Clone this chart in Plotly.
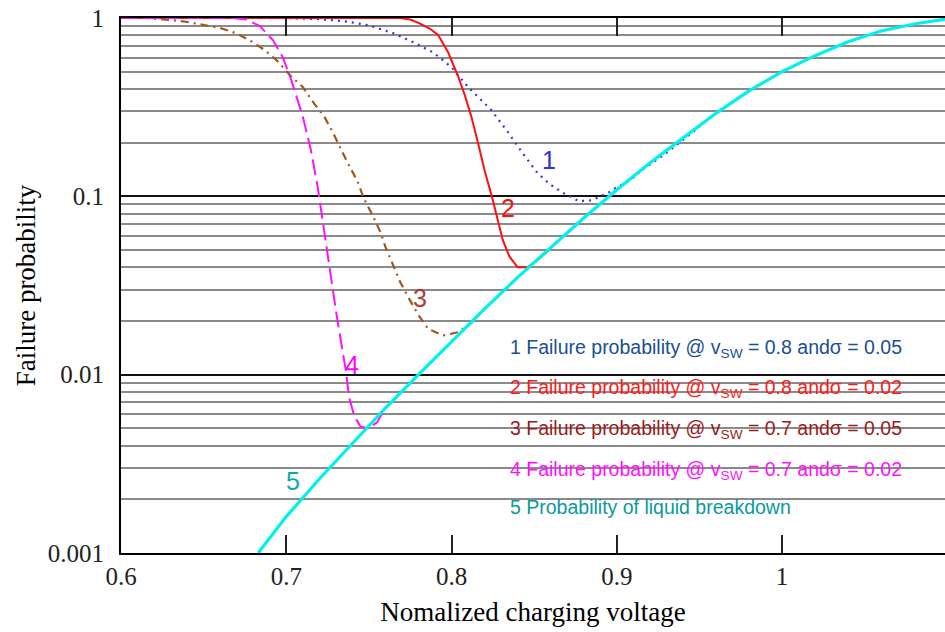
import math
import plotly.graph_objects as go

# ---- data ----
x1 = [0.60, 0.70, 0.72, 0.735, 0.75, 0.765, 0.777, 0.789, 0.80, 0.81, 0.824, 0.834,
      0.842, 0.852, 0.860, 0.868, 0.877, 0.885, 0.895, 0.899, 0.908, 0.915, 0.93, 0.95]
p1 = [1.0, 1.0, 0.985, 0.96, 0.91, 0.82, 0.73, 0.64, 0.53, 0.41, 0.305, 0.23,
      0.18, 0.135, 0.116, 0.104, 0.094, 0.095, 0.105, 0.111, 0.123, 0.14, 0.175, 0.245]

x2 = [0.60, 0.769, 0.775, 0.781, 0.787, 0.792, 0.798, 0.804, 0.808, 0.812, 0.816, 0.820,
      0.8245, 0.828, 0.831, 0.835, 0.840, 0.846, 0.852, 0.858, 0.864]
p2 = [1.0, 1.0, 0.98, 0.93, 0.87, 0.80, 0.64, 0.47, 0.37, 0.28, 0.20, 0.14,
      0.099, 0.074, 0.057, 0.046, 0.040, 0.040, 0.044, 0.049, 0.056]

x3 = [0.60, 0.615, 0.63, 0.64, 0.651, 0.66, 0.670, 0.680, 0.687, 0.695, 0.703, 0.710,
      0.717, 0.723, 0.728, 0.737, 0.743, 0.747, 0.752, 0.757, 0.760, 0.764, 0.769,
      0.775, 0.780, 0.786, 0.795, 0.804, 0.812, 0.82]
p3 = [1.0, 1.0, 0.975, 0.95, 0.91, 0.88, 0.82, 0.73, 0.66, 0.57, 0.47, 0.41,
      0.33, 0.28, 0.23, 0.155, 0.122, 0.097, 0.079, 0.063, 0.052, 0.042, 0.033,
      0.026, 0.0216, 0.018, 0.0166, 0.0173, 0.0195, 0.0235]

x4 = [0.60, 0.668, 0.676, 0.684, 0.692, 0.698, 0.703, 0.710, 0.715, 0.719, 0.724,
      0.727, 0.730, 0.733, 0.736, 0.738, 0.741, 0.745, 0.7495, 0.755, 0.76]
p4 = [1.0, 1.0, 0.98, 0.90, 0.75, 0.60, 0.45, 0.28, 0.18, 0.113, 0.055,
      0.035, 0.023, 0.0156, 0.0106, 0.0075, 0.0059, 0.0051, 0.0050, 0.0054, 0.0066]

x5 = [0.683, 0.70, 0.72, 0.74, 0.76, 0.78, 0.80, 0.82, 0.84, 0.86, 0.88, 0.90,
      0.92, 0.94, 0.96, 0.98, 1.00, 1.02, 1.04, 1.06, 1.08, 1.10]
p5 = [0.001, 0.0016, 0.0026, 0.0041, 0.0065, 0.0100, 0.0154, 0.0234, 0.0351, 0.0518,
      0.0756, 0.1088, 0.154, 0.212, 0.292, 0.39, 0.50, 0.615, 0.735, 0.845, 0.925, 0.99]

curve_labels = ["1", "2", "3", "4", "5"]
label_x = [0.859, 0.834, 0.781, 0.740, 0.704]
label_p = [0.16, 0.086, 0.027, 0.0113, 0.00253]
label_colors = ["#3030e0", "#ff1010", "#b03a3a", "#ff00ff", "#10aaaa"]

legend_texts = [
    "1 Failure probability @ v<sub>SW</sub> = 0.8 and\u03c3 = 0.05",
    "2 Failure probability @ v<sub>SW</sub> = 0.8 and\u03c3 = 0.02",
    "3 Failure probability @ v<sub>SW</sub> = 0.7 and\u03c3 = 0.05",
    "4 Failure probability @ v<sub>SW</sub> = 0.7 and\u03c3 = 0.02",
    "5 Probability of liquid breakdown",
]
legend_p = [0.0141, 0.0084, 0.0049, 0.0029, 0.0018]
legend_colors = ["#1a4e96", "#ff1a1a", "#9b1b1b", "#ff10ff", "#0a9a9a"]

x_ticks = [0.6, 0.7, 0.8, 0.9, 1.0]
x_ticktext = ["0.6", "0.7", "0.8", "0.9", "1"]
y_ticks = [0.001, 0.01, 0.1, 1]
y_ticktext = ["0.001", "0.01", "0.1", "1"]
y_minor = [k * 10.0 ** e for e in (-3, -2, -1) for k in range(2, 10)]

fig = go.Figure()
fig.add_trace(go.Scatter(x=x1, y=p1, mode="lines",
                         line=dict(color="#3030f0", width=2.2, dash="2px,5px")))
fig.add_trace(go.Scatter(x=x2, y=p2, mode="lines",
                         line=dict(color="#ff1010", width=2)))
fig.add_trace(go.Scatter(x=x3, y=p3, mode="lines",
                         line=dict(color="#a0581e", width=2.2, dash="8px,5px,2px,5px")))
fig.add_trace(go.Scatter(x=x4, y=p4, mode="lines",
                         line=dict(color="#ff10ff", width=2, dash="16px,6px")))
fig.add_trace(go.Scatter(x=x5, y=p5, mode="lines",
                         line=dict(color="#00f0f0", width=3.2)))

for t, xx, pp, c in zip(curve_labels, label_x, label_p, label_colors):
    fig.add_annotation(x=xx, y=math.log10(pp), text=t, showarrow=False,
                       font=dict(family="Liberation Sans", size=25, color=c))

for t, pp, c in zip(legend_texts, legend_p, legend_colors):
    fig.add_annotation(x=0.834, y=math.log10(pp), text=t, showarrow=False,
                       xanchor="left", yanchor="middle",
                       font=dict(family="Liberation Sans", size=19.5, color=c))

fig.update_layout(
    width=945, height=632,
    margin=dict(l=121, r=0, t=18, b=79),
    paper_bgcolor="white", plot_bgcolor="white",
    showlegend=False,
    font=dict(family="Liberation Serif", color="black"),
)
fig.update_xaxes(
    range=[0.6, 1.0986], tickvals=x_ticks, ticktext=x_ticktext,
    showgrid=False, zeroline=False,
    showline=True, linecolor="black", linewidth=2, mirror="ticks",
    ticks="inside", ticklen=18, tickwidth=2, tickcolor="#222",
    tickfont=dict(family="Liberation Serif", size=25, color="#222"),
    title=dict(text="Nomalized charging voltage",
               font=dict(family="Liberation Serif", size=27, color="black"),
               standoff=13),
)
fig.update_yaxes(
    type="log", range=[-3, 0], tickvals=y_ticks, ticktext=y_ticktext,
    showgrid=True, gridcolor="#111", gridwidth=2,
    zeroline=False, showline=True, linecolor="black", linewidth=2,
    ticks="", ticklabelstandoff=10,
    tickfont=dict(family="Liberation Serif", size=25, color="#222"),
    minor=dict(tickvals=y_minor, showgrid=True, gridcolor="#8a8a8a", gridwidth=2, ticks=""),
    title=dict(text="Failure probability",
               font=dict(family="Liberation Serif", size=27, color="black"),
               standoff=4),
)

fig.write_html("out.html")
